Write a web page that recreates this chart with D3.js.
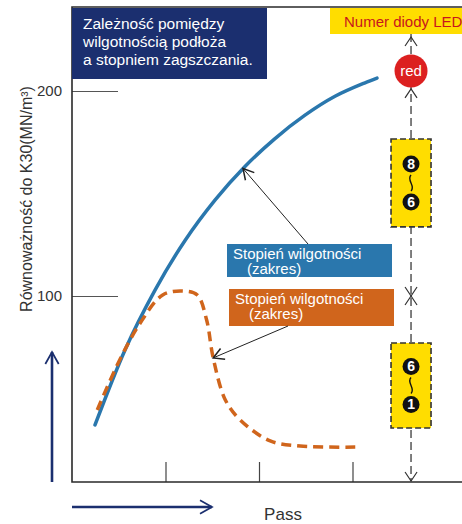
<!DOCTYPE html>
<html>
<head>
<meta charset="utf-8">
<script src="https://cdn.jsdelivr.net/npm/d3@7"></script>
<style>
  html, body { margin: 0; padding: 0; background: #fff; }
  svg { display: block; font-family: "Liberation Sans", Arial, sans-serif; }
</style>
</head>
<body>
<div id="main"></div>
<script>
const WIDTH = 462;
const HEIGHT = 524;

// data (x = pass, y = K30 MN/m2)
const blueX = [0.246, 0.567, 0.888, 1.209, 1.529, 1.850, 2.171, 2.492, 2.813, 3.134, 3.262];
const blueY = [37.1, 73.7, 102.9, 127.1, 146.8, 163.2, 176.8, 188.2, 197.4, 204.0, 206.3];
const orangeX = [0.27, 0.51, 0.73, 0.97, 1.19, 1.34, 1.44, 1.51, 1.64, 1.80, 2.12, 2.44, 3.03];
const orangeY = [44.4, 68.8, 86.8, 100.5, 102.4, 100.5, 88.3, 69.8, 49.3, 39.5, 29.3, 26.8, 26.3];
const yTicks = [100, 200];
const xTicks = [1, 2, 3];

const TITLE = ["Zależność pomiędzy", "wilgotnością podłoża", "a stopniem zagszczania."];
const LEGEND_TITLE = "Numer diody LED";
const SERIES_LABEL = ["Stopień wilgotności", "(zakres)"];
const Y_LABEL = "Równoważność do K30(MN/m³)";
const X_LABEL = "Pass";

const BLUE = "#2a77ad";
const ORANGE = "#d0651c";
const NAVY = "#1b2f6f";
const YELLOW = "#ffdd00";

const x = d3.scaleLinear().domain([0, 1]).range([72, 165.5]);
const y = d3.scaleLinear().domain([0, 200]).range([501, 91]);

const LEFT = 72, RIGHT = WIDTH, TOP = 7, BOTTOM = 482;
const LED_X = x(3.626);

const svg = d3.select("#main").append("svg")
  .attr("width", WIDTH)
  .attr("height", HEIGHT)
  .attr("viewBox", [0, 0, WIDTH, HEIGHT]);

/**
 * markers
 */
const defs = svg.append("defs");
function addMarker(id, color, w) {
  defs.append("marker")
    .attr("id", id)
    .attr("viewBox", "-10 -6 12 12")
    .attr("refX", 0).attr("refY", 0)
    .attr("markerWidth", w).attr("markerHeight", w)
    .attr("markerUnits", "userSpaceOnUse")
    .attr("orient", "auto")
    .append("path")
    .attr("d", "M-9,-5L0,0L-9,5")
    .attr("fill", "none")
    .attr("stroke", color)
    .attr("stroke-width", 1.3);
}
addMarker("arrow-black", "#222", 14);
addMarker("arrow-navy", NAVY, 16);

/**
 * axes
 */
svg.append("g")
  .attr("transform", `translate(${LEFT},0)`)
  .call(d3.axisLeft(y).tickValues(yTicks).tickSize(-46).tickPadding(10))
  .call(g => g.select(".domain").remove())
  .call(g => g.selectAll("line").attr("stroke", "#555"))
  .call(g => g.selectAll("text").attr("font-size", 15).attr("fill", "#333")
    .attr("font-family", "Liberation Sans, Arial, sans-serif"));

svg.append("g")
  .attr("transform", `translate(0,${BOTTOM})`)
  .call(d3.axisBottom(x).tickValues(xTicks).tickSize(-20).tickFormat(""))
  .call(g => g.select(".domain").remove())
  .call(g => g.selectAll("line").attr("stroke", "#444").attr("stroke-width", 1.2));

// frame
svg.append("path")
  .attr("d", `M${RIGHT},${TOP}H${LEFT}V${BOTTOM}H${RIGHT}`)
  .attr("fill", "none")
  .attr("stroke", "#2a2a2a")
  .attr("stroke-width", 1.6);

/**
 * curves
 */
const blueLine = d3.line()
  .x(d => x(d[0]))
  .y(d => y(d[1]))
  .curve(d3.curveMonotoneX);

const orangeLine = d3.line()
  .x(d => x(d[0]))
  .y(d => y(d[1]))
  .curve(d3.curveCatmullRom.alpha(0.5));

svg.append("path")
  .datum(blueX.map((v, i) => [v, blueY[i]]))
  .attr("d", blueLine)
  .attr("fill", "none")
  .attr("stroke", BLUE)
  .attr("stroke-width", 3.5)
  .attr("stroke-linecap", "round");

svg.append("path")
  .datum(orangeX.map((v, i) => [v, orangeY[i]]))
  .attr("d", orangeLine)
  .attr("fill", "none")
  .attr("stroke", ORANGE)
  .attr("stroke-width", 3.5)
  .attr("stroke-dasharray", "10,6");

/**
 * title box
 */
svg.append("rect")
  .attr("x", LEFT).attr("y", TOP + 1)
  .attr("width", 195).attr("height", 71)
  .attr("fill", NAVY);
svg.append("text")
  .attr("fill", "#fff").attr("font-size", 15.5)
  .selectAll("tspan").data(TITLE).join("tspan")
  .attr("x", 83).attr("y", (d, i) => 28.5 + i * 18)
  .text(d => d);

/**
 * LED legend column
 */
svg.append("rect")
  .attr("x", 330).attr("y", TOP + 1)
  .attr("width", RIGHT - 330).attr("height", 26)
  .attr("fill", YELLOW);
svg.append("text")
  .attr("x", 344).attr("y", 26.5)
  .attr("fill", "#c8161d").attr("font-size", 15)
  .text(LEGEND_TITLE);

// dashed guide
svg.append("line")
  .attr("x1", LED_X).attr("x2", LED_X)
  .attr("y1", 34).attr("y2", BOTTOM)
  .attr("stroke", "#555")
  .attr("stroke-width", 1.5)
  .attr("stroke-dasharray", "8,4");

function chevron(cy, dir) {
  svg.append("path")
    .attr("d", `M${LED_X - 6},${cy - dir * 9}L${LED_X},${cy}L${LED_X + 6},${cy - dir * 9}`)
    .attr("fill", "none")
    .attr("stroke", "#333")
    .attr("stroke-width", 1.2);
}
chevron(37, -1);
chevron(y(201), -1);
chevron(y(100), 1);
chevron(y(100), -1);
chevron(BOTTOM - 1, 1);

// red LED
svg.append("circle")
  .attr("cx", LED_X).attr("cy", y(209.8))
  .attr("r", 16.5)
  .attr("fill", "#dc2020");
svg.append("text")
  .attr("x", LED_X).attr("y", y(209.8) + 5)
  .attr("text-anchor", "middle")
  .attr("fill", "#fff").attr("font-size", 15)
  .text("red");

// LED range boxes
const ranges = [
  { top: 176.6, bottom: 133.7, from: "8", to: "6" },
  { top: 77.1, bottom: 35.6, from: "6", to: "1" }
];
ranges.forEach(r => {
  const y0 = y(r.top), y1 = y(r.bottom);
  svg.append("rect")
    .attr("x", LED_X - 20).attr("y", y0)
    .attr("width", 40).attr("height", y1 - y0)
    .attr("fill", YELLOW)
    .attr("stroke", "#333")
    .attr("stroke-width", 1.6)
    .attr("stroke-dasharray", "6,3");
  const mid = (y0 + y1) / 2;
  [[r.from, mid - 19], [r.to, mid + 19]].forEach(([t, cy]) => {
    svg.append("circle")
      .attr("cx", LED_X).attr("cy", cy).attr("r", 8.5)
      .attr("fill", "#111");
    svg.append("text")
      .attr("x", LED_X).attr("y", cy + 5)
      .attr("text-anchor", "middle")
      .attr("fill", "#fff").attr("font-size", 14).attr("font-weight", "bold")
      .text(t);
  });
  svg.append("path")
    .attr("d", `M${LED_X},${mid - 8}C${LED_X - 5},${mid - 3} ${LED_X + 5},${mid + 3} ${LED_X},${mid + 8}`)
    .attr("fill", "none")
    .attr("stroke", "#111")
    .attr("stroke-width", 1.4);
});

/**
 * series labels with callouts
 */
const labels = [
  { color: BLUE, bx: 227, by: 244, bw: 165, bh: 33, from: [308, 244], to: [x(1.829), y(162.2)] },
  { color: ORANGE, bx: 229, by: 289, bw: 165, bh: 37, from: [288, 326], to: [x(1.51), y(69.8)] }
];
labels.forEach(l => {
  svg.append("rect")
    .attr("x", l.bx).attr("y", l.by)
    .attr("width", l.bw).attr("height", l.bh)
    .attr("fill", l.color);
  svg.append("text")
    .attr("fill", "#fff").attr("font-size", 15)
    .selectAll("tspan").data(SERIES_LABEL).join("tspan")
    .attr("x", (d, i) => l.bx + (i ? 20 : 6))
    .attr("y", (d, i) => l.by + 14.5 + i * 15.5)
    .text(d => d);
  svg.append("line")
    .attr("x1", l.from[0]).attr("y1", l.from[1])
    .attr("x2", l.to[0]).attr("y2", l.to[1])
    .attr("stroke", "#222")
    .attr("stroke-width", 1)
    .attr("marker-end", "url(#arrow-black)");
});

/**
 * axis labels & direction arrows
 */
svg.append("text")
  .attr("transform", `translate(32,${199}) rotate(-90)`)
  .attr("text-anchor", "middle")
  .attr("fill", "#333").attr("font-size", 16)
  .text(Y_LABEL);

svg.append("text")
  .attr("x", 283).attr("y", 520)
  .attr("text-anchor", "middle")
  .attr("fill", "#333").attr("font-size", 17)
  .text(X_LABEL);

svg.append("line")
  .attr("x1", 52).attr("y1", BOTTOM)
  .attr("x2", 52).attr("y2", 352)
  .attr("stroke", NAVY).attr("stroke-width", 2.6)
  .attr("marker-end", "url(#arrow-navy)");

svg.append("line")
  .attr("x1", LEFT).attr("y1", 507)
  .attr("x2", 212).attr("y2", 507)
  .attr("stroke", NAVY).attr("stroke-width", 2.6)
  .attr("marker-end", "url(#arrow-navy)");
</script>
</body>
</html>
